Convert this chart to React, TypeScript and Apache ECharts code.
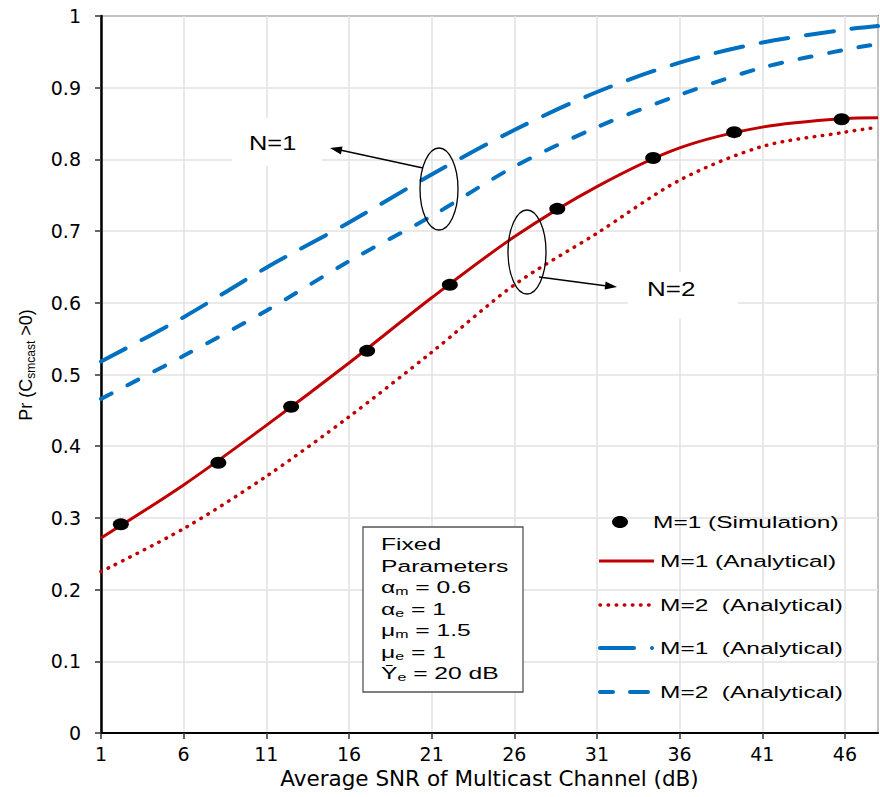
import React, { useEffect, useRef } from 'react';
import * as echarts from 'echarts';

// ---- data ----
const snrPoints = [1, 6, 11, 16, 21, 26, 31, 36, 41, 46, 48];
const redM1Analytical = [0.272, 0.346, 0.429, 0.516, 0.607, 0.692, 0.762, 0.816, 0.845, 0.857, 0.858];
const redM2Analytical = [0.225, 0.285, 0.358, 0.441, 0.531, 0.625, 0.697, 0.771, 0.818, 0.838, 0.845];
const blueM1Analytical = [0.518, 0.580, 0.649, 0.712, 0.779, 0.841, 0.894, 0.935, 0.963, 0.981, 0.986];
const blueM2Analytical = [0.466, 0.526, 0.589, 0.658, 0.721, 0.790, 0.845, 0.890, 0.928, 0.953, 0.961];
const simSnr = [2.2, 8.1, 12.5, 17.1, 22.1, 28.6, 34.4, 39.3, 45.8];
const simValues = [0.291, 0.377, 0.455, 0.533, 0.625, 0.731, 0.802, 0.838, 0.856];

const legendLabels = [
  'M=1 (Simulation)',
  'M=1 (Analytical)',
  'M=2  (Analytical)',
  'M=1  (Analytical)',
  'M=2  (Analytical)',
];
const paramLines = [
  'Fixed',
  'Parameters',
  '{g|\u03b1}{s|m} = 0.6',
  '{g|\u03b1}{s|e} = 1',
  '{g|\u03bc}{s|m} = 1.5',
  '{g|\u03bc}{s|e} = 1',
  '{g|\u0232}{s|e} = 20 dB',
];
const xAxisTitle = 'Average SNR of Multicast Channel (dB)';

const RED = '#C00000';
const BLUE = '#0070C0';
const SANS = 'Liberation Sans';
const AXF = 'DejaVu Sans';

function pairs(xs: number[], ys: number[]) {
  return xs.map((x, i) => [x, ys[i]]);
}

function txt(x: number, y: number, text: string, size: number, sx: number, extra: any = {}) {
  return {
    type: 'text',
    x,
    y,
    scaleX: sx,
    z: 100,
    style: {
      text,
      font: `${size}px "${SANS}"`,
      fill: '#000',
      align: 'left',
      verticalAlign: 'middle',
      textAlign: 'left',
      textVerticalAlign: 'middle',
      ...extra,
    },
  };
}

export default function App() {
  const ref = useRef<HTMLDivElement>(null);
  useEffect(() => {
    if (!ref.current) return;
    const chart = echarts.init(ref.current, null, { renderer: 'svg' });

    const legendY = [522, 561, 605, 648, 692];
    const subRich = {
      g: { font: `17px "${SANS}"`, lineHeight: 20, verticalAlign: 'middle' },
      s: { font: `11px "${SANS}"`, lineHeight: 12, verticalAlign: 'bottom' },
    };

    const graphics: any[] = [
      // Fixed parameters box
      {
        type: 'rect',
        z: 99,
        shape: { x: 363, y: 527, width: 160, height: 165 },
        style: { fill: '#fff', stroke: '#555', lineWidth: 1.3 },
      },
      ...paramLines.map((t, i) =>
        txt(381, 544 + i * 21.5, t, 17, 1.45, { rich: subRich })
      ),
      // N=1 / N=2 labels
      { type: 'rect', z: 99, shape: { x: 232, y: 118, width: 90, height: 48 }, style: { fill: '#fff' } },
      txt(249, 143, 'N=1', 20, 1.27),
      { type: 'rect', z: 99, shape: { x: 628, y: 272, width: 110, height: 46 }, style: { fill: '#fff' } },
      txt(647, 289, 'N=2', 20, 1.3),
      // ellipses
      { type: 'ellipse', z: 100, shape: { cx: 439, cy: 189, rx: 19, ry: 41 }, style: { fill: 'none', stroke: '#000', lineWidth: 1.3 } },
      { type: 'ellipse', z: 100, shape: { cx: 527, cy: 252, rx: 19, ry: 42 }, style: { fill: 'none', stroke: '#000', lineWidth: 1.3 } },
      // arrows
      { type: 'line', z: 100, shape: { x1: 423, y1: 168, x2: 340, y2: 150 }, style: { stroke: '#000', lineWidth: 1.3 } },
      { type: 'polygon', z: 100, shape: { points: [[330, 148], [342.5, 146.4], [340.9, 154.6]] }, style: { fill: '#000' } },
      { type: 'line', z: 100, shape: { x1: 539, y1: 277, x2: 607, y2: 286 }, style: { stroke: '#000', lineWidth: 1.3 } },
      { type: 'polygon', z: 100, shape: { points: [[617, 287], [604.6, 289.5], [605.6, 281.5]] }, style: { fill: '#000' } },
      // legend
      { type: 'ellipse', z: 100, shape: { cx: 620, cy: legendY[0], rx: 8, ry: 6 }, style: { fill: '#000' } },
      txt(653, legendY[0], legendLabels[0], 17, 1.44),
      { type: 'line', z: 100, shape: { x1: 599, y1: legendY[1], x2: 654, y2: legendY[1] }, style: { stroke: RED, lineWidth: 3 } },
      txt(660, legendY[1], legendLabels[1], 17, 1.44),
      { type: 'line', z: 100, shape: { x1: 600, y1: legendY[2], x2: 651, y2: legendY[2] }, style: { stroke: RED, lineWidth: 3.5, lineDash: [0.5, 7.6], lineCap: 'round' } },
      txt(660, legendY[2], legendLabels[2], 17, 1.44),
      { type: 'line', z: 100, shape: { x1: 600, y1: legendY[3], x2: 634, y2: legendY[3] }, style: { stroke: BLUE, lineWidth: 4, lineCap: 'round' } },
      { type: 'circle', z: 100, shape: { cx: 652, cy: legendY[3], r: 2 }, style: { fill: BLUE } },
      txt(660, legendY[3], legendLabels[3], 17, 1.44),
      { type: 'line', z: 100, shape: { x1: 600, y1: legendY[4], x2: 613, y2: legendY[4] }, style: { stroke: BLUE, lineWidth: 4, lineCap: 'round' } },
      { type: 'line', z: 100, shape: { x1: 630, y1: legendY[4], x2: 648, y2: legendY[4] }, style: { stroke: BLUE, lineWidth: 4, lineCap: 'round' } },
      txt(660, legendY[4], legendLabels[4], 17, 1.44),
    ];

    const option: any = {
      animation: false,
      backgroundColor: '#fff',
      grid: {
        left: 101,
        right: 2,
        top: 16,
        bottom: 64,
        containLabel: false,
        show: true,
        borderColor: '#333',
        borderWidth: 1.5,
        backgroundColor: 'transparent',
      },
      xAxis: {
        type: 'value',
        min: 1,
        max: 48,
        interval: 5,
        name: xAxisTitle,
        nameLocation: 'middle',
        nameGap: 33,
        nameTextStyle: { fontFamily: AXF, fontSize: 21.5, color: '#000' },
        axisLine: { show: true, lineStyle: { color: '#000', width: 2 } },
        axisTick: { show: true, length: 6, lineStyle: { color: '#333', width: 1.5 } },
        axisLabel: { fontFamily: AXF, fontSize: 19, color: '#000', margin: 11, showMaxLabel: false },
        splitLine: { show: true, lineStyle: { color: '#e2e2e2', width: 1.5 } },
      },
      yAxis: {
        type: 'value',
        min: 0,
        max: 1,
        interval: 0.1,
        name: '{a|Pr (C}{s|smcast}{a| >0)}',
        nameLocation: 'middle',
        nameGap: 64,
        nameTextStyle: {
          color: '#000',
          padding: [0, 0, 0, 19],
          rich: {
            a: { fontFamily: SANS, fontSize: 18, lineHeight: 22, color: '#000', verticalAlign: 'middle' },
            s: { fontFamily: SANS, fontSize: 12, lineHeight: 13, color: '#000', verticalAlign: 'bottom' },
          },
        },
        axisLine: { show: true, lineStyle: { color: '#000', width: 2.5 } },
        axisTick: { show: true, length: 6, lineStyle: { color: '#333', width: 1.5 } },
        axisLabel: { fontFamily: AXF, fontSize: 19, color: '#000', margin: 20 },
        splitLine: { show: true, lineStyle: { color: '#e2e2e2', width: 1.5 } },
      },
      series: [
        {
          name: 'M=1 (Analytical) N=1',
          type: 'line',
          data: pairs(snrPoints, blueM1Analytical),
          smooth: 0.3,
          showSymbol: false,
          lineStyle: { color: BLUE, width: 4, type: [28, 18], cap: 'round' },
          z: 3,
        },
        {
          name: 'M=2 (Analytical) N=1',
          type: 'line',
          data: pairs(snrPoints, blueM2Analytical),
          smooth: 0.3,
          showSymbol: false,
          lineStyle: { color: BLUE, width: 4, type: [12, 18], cap: 'round' },
          z: 3,
        },
        {
          name: 'M=2 (Analytical) N=2',
          type: 'line',
          data: pairs(snrPoints, redM2Analytical),
          smooth: 0.3,
          showSymbol: false,
          lineStyle: { color: RED, width: 3.5, type: [0.5, 7.6], cap: 'round' },
          z: 3,
        },
        {
          name: 'M=1 (Analytical) N=2',
          type: 'line',
          data: pairs(snrPoints, redM1Analytical),
          smooth: 0.3,
          showSymbol: false,
          lineStyle: { color: RED, width: 3 },
          z: 4,
        },
        {
          name: 'M=1 (Simulation)',
          type: 'scatter',
          data: pairs(simSnr, simValues),
          symbol: 'circle',
          symbolSize: [16, 12],
          itemStyle: { color: '#000', opacity: 1 },
          z: 5,
        },
      ],
      graphic: graphics,
    };

    chart.setOption(option);
    return () => chart.dispose();
  }, []);

  return (
    <div
      ref={ref}
      style={{ position: 'absolute', left: 0, top: 0, width: 880, height: 797, background: '#fff' }}
    />
  );
}
